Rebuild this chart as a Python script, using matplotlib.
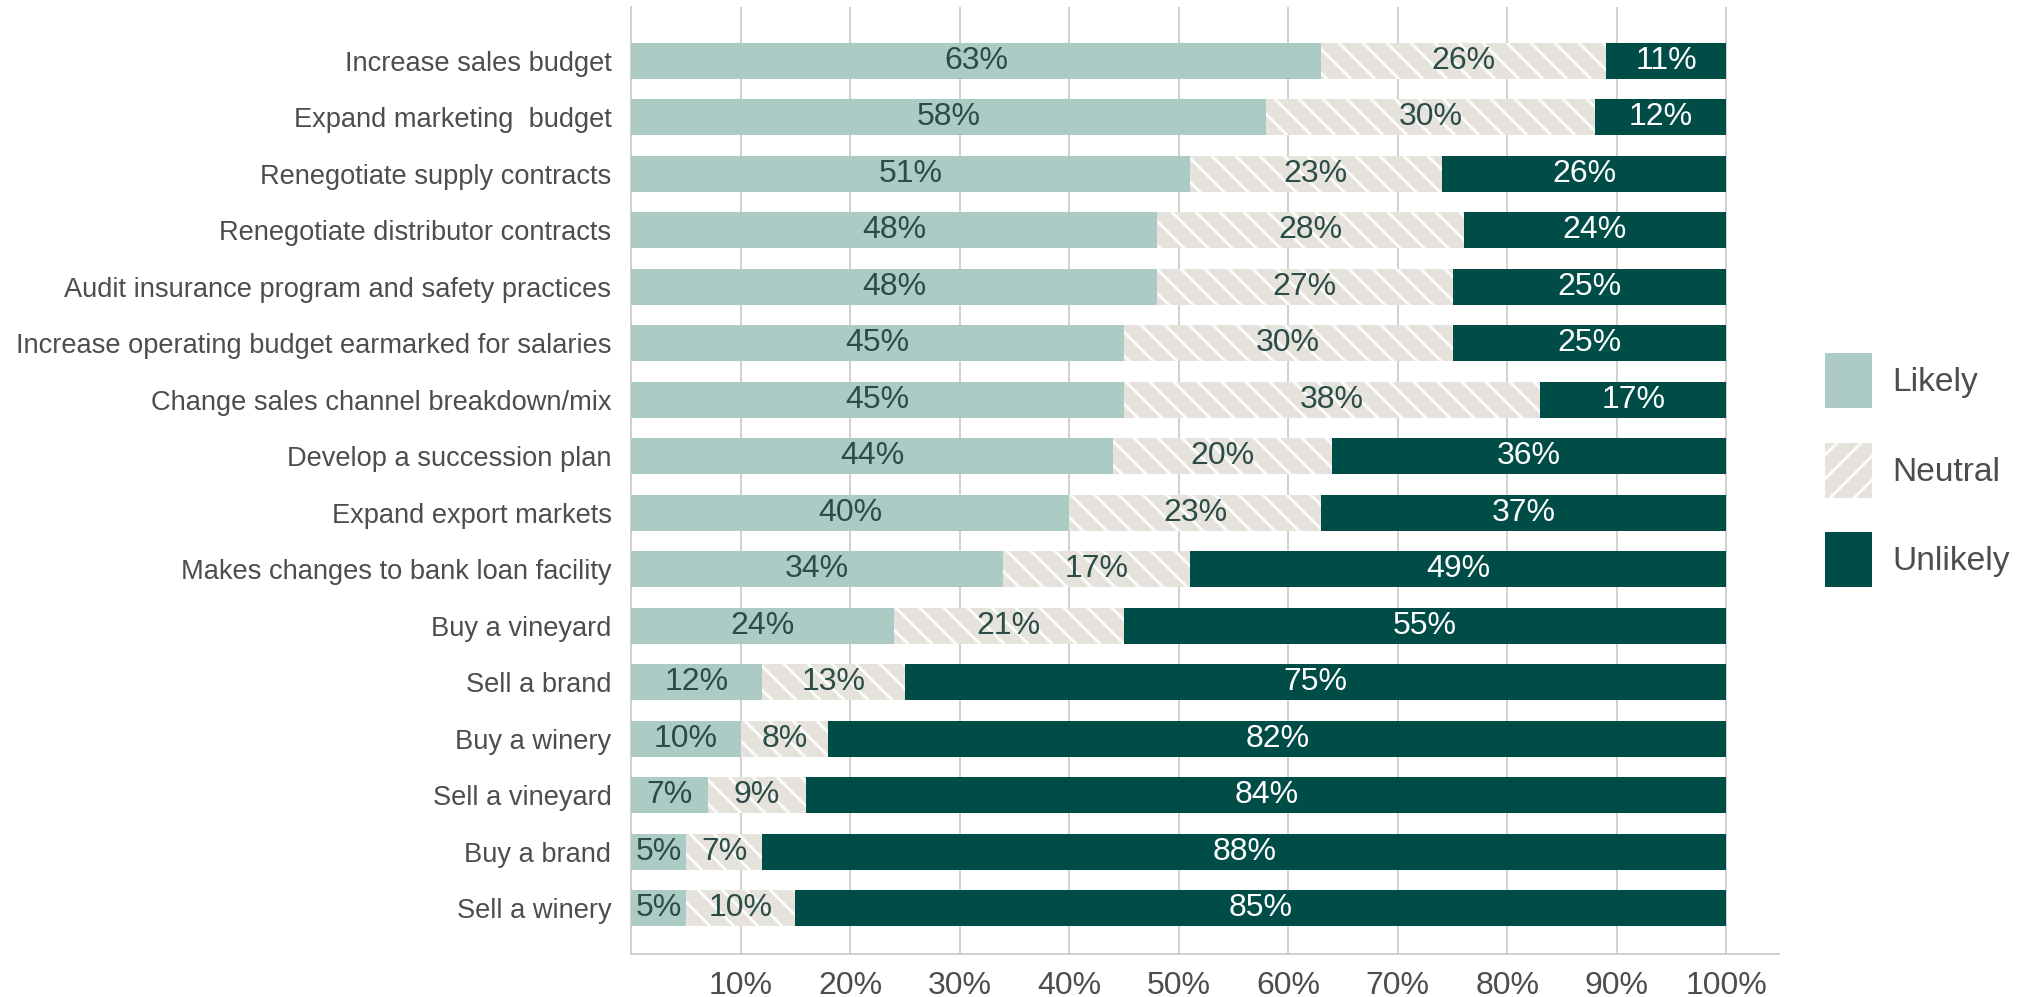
import matplotlib
matplotlib.use('Agg')
import matplotlib.pyplot as plt
from matplotlib.patches import Patch
import numpy as np

# dpi 72 so that 1 pt == 1 px (also gives the tighter hatch spacing)
DPI = 72
plt.rcParams['font.family'] = ['Liberation Sans', 'DejaVu Sans']
plt.rcParams['hatch.linewidth'] = 2.6

# Data
categories = [
    "Increase sales budget",
    "Expand marketing  budget",
    "Renegotiate supply contracts",
    "Renegotiate distributor contracts",
    "Audit insurance program and safety practices",
    "Increase operating budget earmarked for salaries",
    "Change sales channel breakdown/mix",
    "Develop a succession plan",
    "Expand export markets",
    "Makes changes to bank loan facility",
    "Buy a vineyard",
    "Sell a brand",
    "Buy a winery",
    "Sell a vineyard",
    "Buy a brand",
    "Sell a winery",
]
likely = [63, 58, 51, 48, 48, 45, 45, 44, 40, 34, 24, 12, 10, 7, 5, 5]
neutral = [26, 30, 23, 28, 27, 30, 38, 20, 23, 17, 21, 13, 8, 9, 7, 10]
unlikely = [11, 12, 26, 24, 25, 25, 17, 36, 37, 49, 55, 75, 82, 84, 88, 85]
x_ticks = [10, 20, 30, 40, 50, 60, 70, 80, 90, 100]

c_likely = '#abcbc4'
c_neutral = '#e6e3dd'
c_unlikely = '#004c47'
c_text_dark = '#2c4c48'
c_label = '#4d4d4d'
c_grid = '#cccccc'

fig = plt.figure(figsize=(2033 / DPI, 997 / DPI), dpi=DPI)
ax = fig.add_axes([631 / 2033, 43 / 997, 1148 / 2033, 947 / 997])

y = np.arange(len(categories))
h = 0.64
likely = np.array(likely)
neutral = np.array(neutral)
unlikely = np.array(unlikely)

ax.barh(y, likely, height=h, color=c_likely, edgecolor='none', zorder=3)
ax.barh(y, neutral, left=likely, height=h, color=c_neutral, edgecolor='white',
        linewidth=0, hatch='\\', zorder=3)
ax.barh(y, unlikely, left=likely + neutral, height=h, color=c_unlikely,
        edgecolor='none', zorder=3)

# value labels
for i in range(len(categories)):
    ax.text(likely[i] / 2, y[i], f"{likely[i]}%", ha='center', va='center',
            fontsize=32, color=c_text_dark, zorder=4)
    ax.text(likely[i] + neutral[i] / 2, y[i], f"{neutral[i]}%", ha='center', va='center',
            fontsize=32, color=c_text_dark, zorder=4)
    ax.text(likely[i] + neutral[i] + unlikely[i] / 2, y[i], f"{unlikely[i]}%",
            ha='center', va='center', fontsize=32, color='white', zorder=4)

ax.set_xlim(0, 104.8)
ax.set_ylim(15.81, -0.95)
ax.set_yticks(y)
ax.set_yticklabels(categories, fontsize=27.3, color=c_label)
ax.set_xticks(x_ticks)
ax.set_xticklabels([f"{t}%" for t in x_ticks], fontsize=32, color=c_label)
ax.tick_params(axis='both', length=0)
ax.tick_params(axis='y', pad=19.5)
ax.tick_params(axis='x', pad=16.5)

for t in x_ticks:
    ax.axvline(t, color=c_grid, linewidth=1.8, zorder=1)

for s in ['top', 'right']:
    ax.spines[s].set_visible(False)
ax.spines['left'].set_color(c_grid)
ax.spines['left'].set_linewidth(1.8)
ax.spines['bottom'].set_color(c_grid)
ax.spines['bottom'].set_linewidth(1.8)

handles = [
    Patch(facecolor=c_likely, edgecolor='none', label='Likely'),
    Patch(facecolor=c_neutral, edgecolor='white', linewidth=0, hatch='/', label='Neutral'),
    Patch(facecolor=c_unlikely, edgecolor='none', label='Unlikely'),
]
fig.legend(handles=handles, loc='upper left', bbox_to_anchor=(1825 / 2033, 1 - 353 / 997),
           frameon=False, fontsize=33.5, handlelength=1.41, handleheight=2.15,
           handletextpad=0.6, labelspacing=1.03, borderpad=0, borderaxespad=0,
           labelcolor=c_label)

fig.savefig('out.png', dpi=DPI)
